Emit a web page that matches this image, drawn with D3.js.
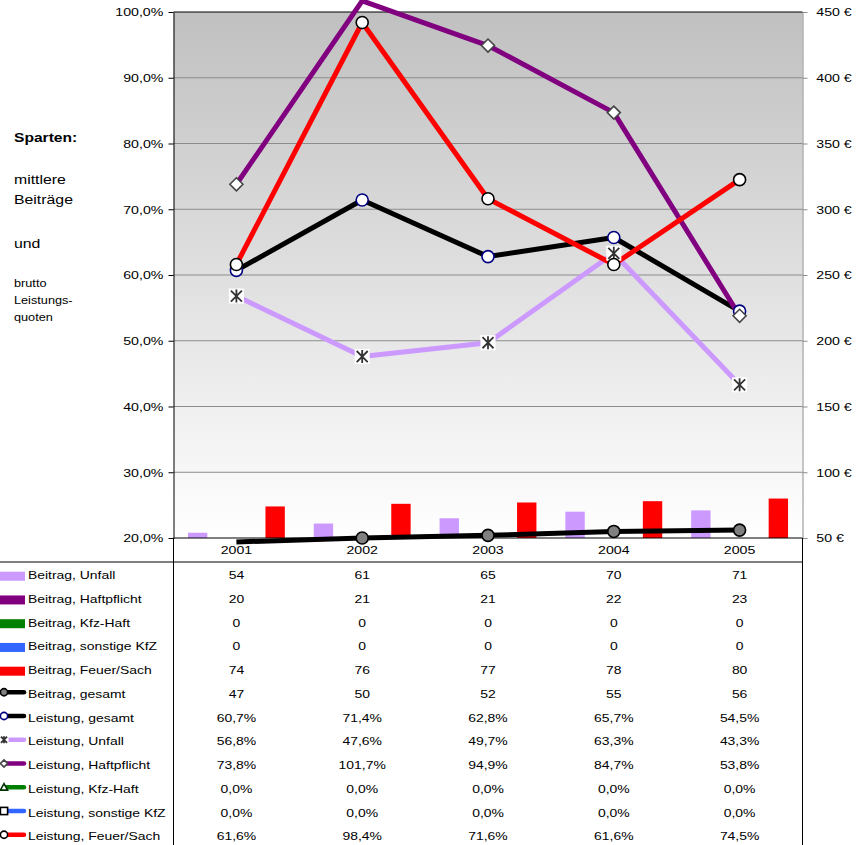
<!DOCTYPE html>
<html>
<head>
<meta charset="utf-8">
<script src="https://cdn.jsdelivr.net/npm/d3@7"></script>
<style>
  body { margin: 0; background: #fff; }
  svg { display: block; font-family: "Liberation Sans", Arial, sans-serif; fill: #000; }
</style>
</head>
<body>
<div id="chart"></div>
<script>
// data
var years = ["2001", "2002", "2003", "2004", "2005"];

var beitragUnfall = [54, 61, 65, 70, 71];
var beitragHaft = [20, 21, 21, 22, 23];
var beitragKfz = [0, 0, 0, 0, 0];
var beitragSonst = [0, 0, 0, 0, 0];
var beitragFeuer = [74, 76, 77, 78, 80];
var beitragGesamt = [47, 50, 52, 55, 56];

var leistGesamt = [60.7, 71.4, 62.8, 65.7, 54.5];
var leistUnfall = [56.8, 47.6, 49.7, 63.3, 43.3];
var leistHaft = [73.8, 101.7, 94.9, 84.7, 53.8];
var leistKfz = [0, 0, 0, 0, 0];
var leistSonst = [0, 0, 0, 0, 0];
var leistFeuer = [61.6, 98.4, 71.6, 61.6, 74.5];

var leftTicks = [20, 30, 40, 50, 60, 70, 80, 90, 100];
var rightTicks = [50, 100, 150, 200, 250, 300, 350, 400, 450];

var sideText = ["Sparten:", "mittlere", "Beiträge", "und", "brutto", "Leistungs-", "quoten"];

// series setup (order = table order)
var series = [
    {name: "Beitrag, Unfall", values: beitragUnfall, kind: "bar", color: "#cc99ff"},
    {name: "Beitrag, Haftpflicht", values: beitragHaft, kind: "bar", color: "#800080"},
    {name: "Beitrag, Kfz-Haft", values: beitragKfz, kind: "bar", color: "#008000"},
    {name: "Beitrag, sonstige KfZ", values: beitragSonst, kind: "bar", color: "#3366ff"},
    {name: "Beitrag, Feuer/Sach", values: beitragFeuer, kind: "bar", color: "#ff0000"},
    {name: "Beitrag, gesamt", values: beitragGesamt, kind: "line", axis: "r", color: "#000000", marker: "circle", mfill: "#808080", mstroke: "#000000"},
    {name: "Leistung, gesamt", values: leistGesamt, kind: "line", axis: "l", color: "#000000", marker: "circle", mfill: "#ffffff", mstroke: "#000080"},
    {name: "Leistung, Unfall", values: leistUnfall, kind: "line", axis: "l", color: "#cc99ff", marker: "star", mfill: "#ffffff", mstroke: "#333333"},
    {name: "Leistung, Haftpflicht", values: leistHaft, kind: "line", axis: "l", color: "#800080", marker: "diamond", mfill: "#ffffff", mstroke: "#444444"},
    {name: "Leistung, Kfz-Haft", values: leistKfz, kind: "line", axis: "l", color: "#008000", marker: "triangle", mfill: "#ffffff", mstroke: "#003300"},
    {name: "Leistung, sonstige KfZ", values: leistSonst, kind: "line", axis: "l", color: "#3366ff", marker: "square", mfill: "#ffffff", mstroke: "#000000"},
    {name: "Leistung, Feuer/Sach", values: leistFeuer, kind: "line", axis: "l", color: "#ff0000", marker: "circle", mfill: "#ffffff", mstroke: "#000000"}
];

var barSeries = series.filter(function(s) { return s.kind == "bar"; });
var lineSeries = series.filter(function(s) { return s.kind == "line"; });

//System dimensions
var width = 860, height = 845;
var plotL = 173.5, plotR = 802.5, plotT = 12, plotB = 538;
var SX = 1.2; // text is drawn a bit wide in the original
var tableTop = 562;
var rowBase = 579, rowStep = 23.75;

var svg = d3.select("#chart").append("svg")
    .attr("width", width)
    .attr("height", height);

var x = d3.scaleBand()
    .domain(years)
    .range([plotL, plotR])
    .paddingInner(0.23)
    .paddingOuter(0.115);

var xs = d3.scaleBand()
    .domain(barSeries.map(function(s) { return s.name; }))
    .range([0, x.bandwidth()]);

var yL = d3.scaleLinear().domain([20, 100]).range([plotB, plotT]);
var yR = d3.scaleLinear().domain([50, 450]).range([plotB, plotT]);

function xc(i) {
    return x(years[i]) + x.bandwidth() / 2;
}

function label(g, px, py, str, size, anchor, weight) {
    return g.append("text")
        .attr("transform", "translate(" + px + "," + py + ") scale(" + SX + ",1)")
        .attr("text-anchor", anchor || "start")
        .attr("font-size", size)
        .attr("font-weight", weight || "normal")
        .attr("fill", "#000")
        .text(str);
}

//Plot background gradient
var defs = svg.append("defs");
var grad = defs.append("linearGradient")
    .attr("id", "bg")
    .attr("x1", 0).attr("y1", 0).attr("x2", 0).attr("y2", 1);
grad.append("stop").attr("offset", "0%").attr("stop-color", "#c0c0c0");
grad.append("stop").attr("offset", "100%").attr("stop-color", "#ffffff");

defs.append("clipPath").attr("id", "lineclip")
    .append("rect")
    .attr("x", plotL).attr("y", -20)
    .attr("width", plotR - plotL).attr("height", plotB + 12 + 20);

svg.append("rect")
    .attr("x", plotL).attr("y", plotT)
    .attr("width", plotR - plotL).attr("height", plotB - plotT)
    .attr("fill", "url(#bg)");

//Gridlines
svg.append("g")
    .selectAll("line")
    .data(leftTicks.filter(function(d) { return d > 20 && d < 100; }))
    .enter()
    .append("line")
    .attr("x1", plotL).attr("x2", plotR)
    .attr("y1", function(d) { return yL(d); })
    .attr("y2", function(d) { return yL(d); })
    .attr("stroke", "#8c8c8c")
    .attr("stroke-width", 1);

//Bars (only the part above the axis minimum shows)
barSeries.forEach(function(s) {
    svg.append("g")
        .selectAll("rect")
        .data(s.values.map(function(v, i) { return {v: v, i: i}; })
            .filter(function(d) { return d.v > yR.domain()[0]; }))
        .enter()
        .append("rect")
        .attr("x", function(d) { return x(years[d.i]) + xs(s.name); })
        .attr("width", xs.bandwidth())
        .attr("y", function(d) { return yR(d.v); })
        .attr("height", function(d) { return yR(yR.domain()[0]) - yR(d.v); })
        .attr("fill", s.color);
});

//Axes
var axisL = svg.append("g")
    .attr("transform", "translate(" + plotL + ",0)")
    .call(d3.axisLeft(yL)
        .tickValues(leftTicks)
        .tickSize(5)
        .tickSizeOuter(0)
        .tickFormat(function(d) { return d.toFixed(1).replace(".", ",") + "%"; }));
axisL.select(".domain").attr("stroke", "#000");
axisL.selectAll(".tick line").attr("stroke", "#000");
axisL.selectAll(".tick text")
    .attr("x", -8.5)
    .attr("transform", "scale(" + SX + ",1)")
    .attr("font-size", 11.8)
    .attr("fill", "#000");

var axisR = svg.append("g")
    .attr("transform", "translate(" + plotR + ",0)")
    .call(d3.axisRight(yR)
        .tickValues(rightTicks)
        .tickSize(5)
        .tickSizeOuter(0)
        .tickFormat(function(d) { return d + " €"; }));
axisR.select(".domain").attr("stroke", "#8c8c8c");
axisR.selectAll(".tick line").attr("stroke", "#8c8c8c");
axisR.selectAll(".tick text")
    .attr("x", 11.5)
    .attr("transform", "scale(" + SX + ",1)")
    .attr("font-size", 11.8)
    .attr("fill", "#000");
axisL.attr("font-family", null);
axisR.attr("font-family", null);

//Frame lines: top, bottom axis, table
svg.append("line").attr("x1", plotL).attr("x2", plotR).attr("y1", plotT).attr("y2", plotT).attr("stroke", "#000");
svg.append("line").attr("x1", plotL).attr("x2", plotR).attr("y1", plotB).attr("y2", plotB).attr("stroke", "#000");
svg.append("line").attr("x1", 0).attr("x2", plotR).attr("y1", tableTop).attr("y2", tableTop).attr("stroke", "#000");
svg.append("line").attr("x1", plotL).attr("x2", plotL).attr("y1", plotB).attr("y2", height).attr("stroke", "#000");
svg.append("line").attr("x1", plotR).attr("x2", plotR).attr("y1", plotB).attr("y2", height).attr("stroke", "#000");

//Category labels
var catG = svg.append("g");
years.forEach(function(yr, i) {
    label(catG, xc(i), 554, yr, 11.8, "middle");
});

//Markers
function marker(g, type, cx, cy, r, fill, stroke) {
    if (type == "circle") {
        g.append("circle").attr("cx", cx).attr("cy", cy).attr("r", r)
            .attr("fill", fill).attr("stroke", stroke).attr("stroke-width", 1.6);
    } else if (type == "diamond") {
        g.append("path")
            .attr("d", "M" + cx + "," + (cy - r) + "L" + (cx + r) + "," + cy + "L" + cx + "," + (cy + r) + "L" + (cx - r) + "," + cy + "Z")
            .attr("fill", fill).attr("stroke", stroke).attr("stroke-width", 1.6);
    } else if (type == "star") {
        var a = r * 0.85;
        g.append("rect").attr("x", cx - r - 1).attr("y", cy - r - 1)
            .attr("width", 2 * r + 2).attr("height", 2 * r + 2).attr("fill", fill);
        g.append("path")
            .attr("d", "M" + (cx - a) + "," + (cy - a) + "L" + (cx + a) + "," + (cy + a) +
                "M" + (cx + a) + "," + (cy - a) + "L" + (cx - a) + "," + (cy + a) +
                "M" + cx + "," + (cy - r) + "L" + cx + "," + (cy + r))
            .attr("fill", "none").attr("stroke", stroke).attr("stroke-width", 1.8);
    } else if (type == "triangle") {
        g.append("path")
            .attr("d", "M" + cx + "," + (cy - r) + "L" + (cx + r) + "," + (cy + r * 0.8) + "L" + (cx - r) + "," + (cy + r * 0.8) + "Z")
            .attr("fill", fill).attr("stroke", stroke).attr("stroke-width", 1.6);
    } else if (type == "square") {
        g.append("rect").attr("x", cx - r).attr("y", cy - r)
            .attr("width", 2 * r).attr("height", 2 * r)
            .attr("fill", fill).attr("stroke", stroke).attr("stroke-width", 1.6);
    }
}

//Lines
var lineG = svg.append("g").attr("clip-path", "url(#lineclip)");
lineSeries.forEach(function(s) {
    var yScale = s.axis == "r" ? yR : yL;
    var line = d3.line()
        .x(function(d, i) { return xc(i); })
        .y(function(d) { return yScale(d); });
    lineG.append("path")
        .datum(s.values)
        .attr("d", line)
        .attr("fill", "none")
        .attr("stroke", s.color)
        .attr("stroke-width", 5)
        .attr("stroke-linejoin", "round");
});

var markG = svg.append("g");
lineSeries.forEach(function(s) {
    var yScale = s.axis == "r" ? yR : yL;
    var dom = yScale.domain();
    s.values.forEach(function(v, i) {
        if (v < dom[0] || v > dom[1]) return;
        var r = s.marker == "diamond" ? 6.5 : (s.marker == "star" ? 6.5 : 6);
        marker(markG, s.marker, xc(i), yScale(v), r, s.mfill, s.mstroke);
    });
});

//Data table
var tableG = svg.append("g");
series.forEach(function(s, row) {
    var base = rowBase + row * rowStep;
    if (s.kind == "bar") {
        tableG.append("rect")
            .attr("x", 0).attr("y", base - 7.3)
            .attr("width", 25).attr("height", 9)
            .attr("fill", s.color);
    } else {
        var ky = base - 5.5;
        tableG.append("line")
            .attr("x1", 6).attr("x2", 24)
            .attr("y1", ky).attr("y2", ky)
            .attr("stroke", s.color)
            .attr("stroke-width", 4.5)
            .attr("stroke-linecap", "round");
        marker(tableG, s.marker, 4, ky, 3.6, s.mfill, s.mstroke);
    }
    label(tableG, 28, base, s.name, 11.6, "start");
    s.values.forEach(function(v, i) {
        var txt = s.kind == "bar" || s.axis == "r"
            ? String(Math.round(v))
            : v.toFixed(1).replace(".", ",") + "%";
        label(tableG, xc(i), base, txt, 11.6, "middle");
    });
});

//Side annotation
var sideG = svg.append("g");
var sideBase = [142, 184, 204, 248, 287, 304, 321];
sideText.forEach(function(t, i) {
    var size = i == 0 ? 13 : (i < 4 ? 13.2 : 10.6);
    label(sideG, 14, sideBase[i], t, size, "start", i == 0 ? "bold" : "normal");
});
</script>
</body>
</html>
